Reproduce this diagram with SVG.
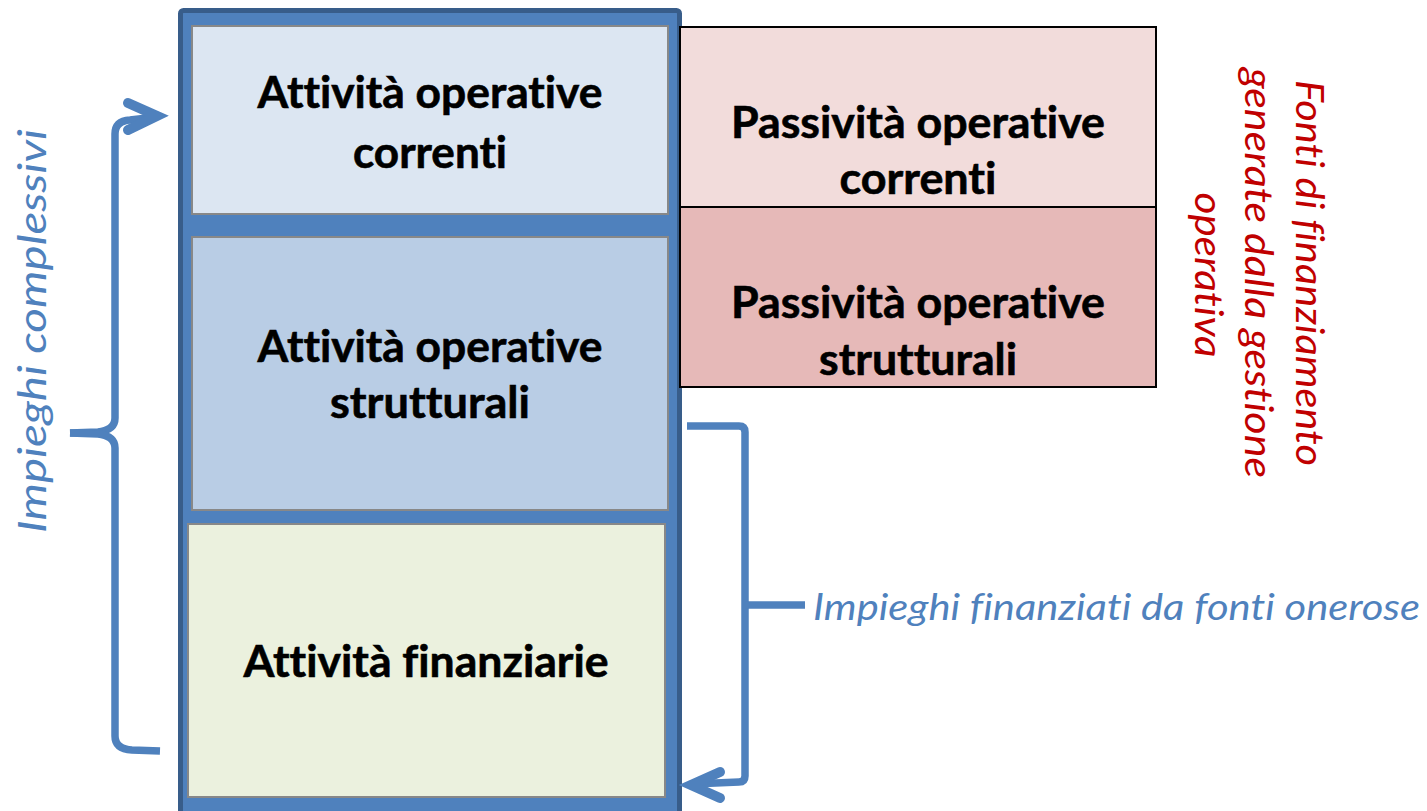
<svg xmlns="http://www.w3.org/2000/svg" width="1427" height="811" viewBox="0 0 1427 811">
<style>
text{font-variant-ligatures:none;font-feature-settings:"liga" 0,"clig" 0,"dlig" 0}
.b{font-family:Lato,"Liberation Sans",sans-serif;font-weight:bold;font-size:43px;fill:#000;text-anchor:middle;stroke:#000;stroke-width:0.6}
.bl{font-family:Lato,"Liberation Sans",sans-serif;font-style:italic;fill:#4f81bd}
.rd{font-family:Lato,"Liberation Sans",sans-serif;font-style:italic;font-size:39px;fill:#c00000;text-anchor:middle}
.in{stroke:#888;stroke-width:2}
.pk{stroke:#000;stroke-width:2}
.cn{fill:none;stroke:#4f81bd;stroke-width:7.5}
.ah{fill:none;stroke:#4f81bd;stroke-width:10;stroke-linecap:round;stroke-linejoin:miter}
</style>
<rect width="1427" height="811" fill="#fff"/>
<g id="frame">
<rect x="180.5" y="10.5" width="499" height="820" rx="3" fill="#4f81bd" stroke="#385d8a" stroke-width="5"/>
</g>
<g id="att-correnti">
<rect class="in" x="192" y="26" width="476" height="188" fill="#dce6f2"/>
<text class="b" x="430" y="108" textLength="345" lengthAdjust="spacingAndGlyphs">Attività operative</text>
<text class="b" x="430" y="168" textLength="154" lengthAdjust="spacingAndGlyphs">correnti</text>
</g>
<g id="att-strutturali">
<rect class="in" x="192" y="237" width="476" height="273" fill="#b9cde5"/>
<text class="b" x="430" y="362" textLength="345" lengthAdjust="spacingAndGlyphs">Attività operative</text>
<text class="b" x="430" y="418" textLength="200" lengthAdjust="spacingAndGlyphs">strutturali</text>
</g>
<g id="att-finanziarie">
<rect class="in" x="188" y="524" width="477" height="273" fill="#ebf1de"/>
<text class="b" x="426" y="677" textLength="365" lengthAdjust="spacingAndGlyphs">Attività finanziarie</text>
</g>
<g id="pass-correnti">
<rect class="pk" x="680" y="27" width="476" height="180" fill="#f2dcdb"/>
<text class="b" x="918" y="138" textLength="374" lengthAdjust="spacingAndGlyphs">Passività operative</text>
<text class="b" x="918" y="194" textLength="157" lengthAdjust="spacingAndGlyphs">correnti</text>
</g>
<g id="pass-strutturali">
<rect class="pk" x="680" y="207" width="476" height="180" fill="#e6b9b8"/>
<text class="b" x="918" y="318" textLength="374" lengthAdjust="spacingAndGlyphs">Passività operative</text>
<text class="b" x="918" y="375" textLength="198" lengthAdjust="spacingAndGlyphs">strutturali</text>
</g>
<g id="connectors">
<path class="cn" d="M70,433 L98,432 Q115,430 115,418 L115,134 Q115,121 130,120 L156,117"/>
<path class="cn" d="M70,433 L98,434 Q115,436 115,448 L115,736 Q115,749 132,750 L160,751"/>
<path class="ah" d="M128,103 L157,116 L128,130"/>
<path class="cn" d="M687,426 L739,426 Q745,426 745,432 L745,776 Q745,782 739,782 L692,784"/>
<path class="cn" d="M745,605 L805,605"/>
<path class="ah" d="M720,772 L691,785 L720,798"/>
</g>
<g id="label-impieghi-onerosi">
<text class="bl" x="813" y="620" font-size="36" textLength="607" lengthAdjust="spacingAndGlyphs">Impieghi finanziati da fonti onerose</text>
</g>
<g id="label-impieghi-complessivi">
<text class="bl" transform="translate(46,331) rotate(-90)" font-size="38" text-anchor="middle" textLength="404" lengthAdjust="spacingAndGlyphs">Impieghi complessivi</text>
</g>
<g id="label-fonti">
<text class="rd" transform="translate(1296,273) rotate(90)" textLength="386" lengthAdjust="spacingAndGlyphs">Fonti di finanziamento</text>
<text class="rd" transform="translate(1245,273) rotate(90)" textLength="410" lengthAdjust="spacingAndGlyphs">generate dalla gestione</text>
<text class="rd" transform="translate(1195,275) rotate(90)" textLength="165" lengthAdjust="spacingAndGlyphs">operativa</text>
</g>
</svg>
